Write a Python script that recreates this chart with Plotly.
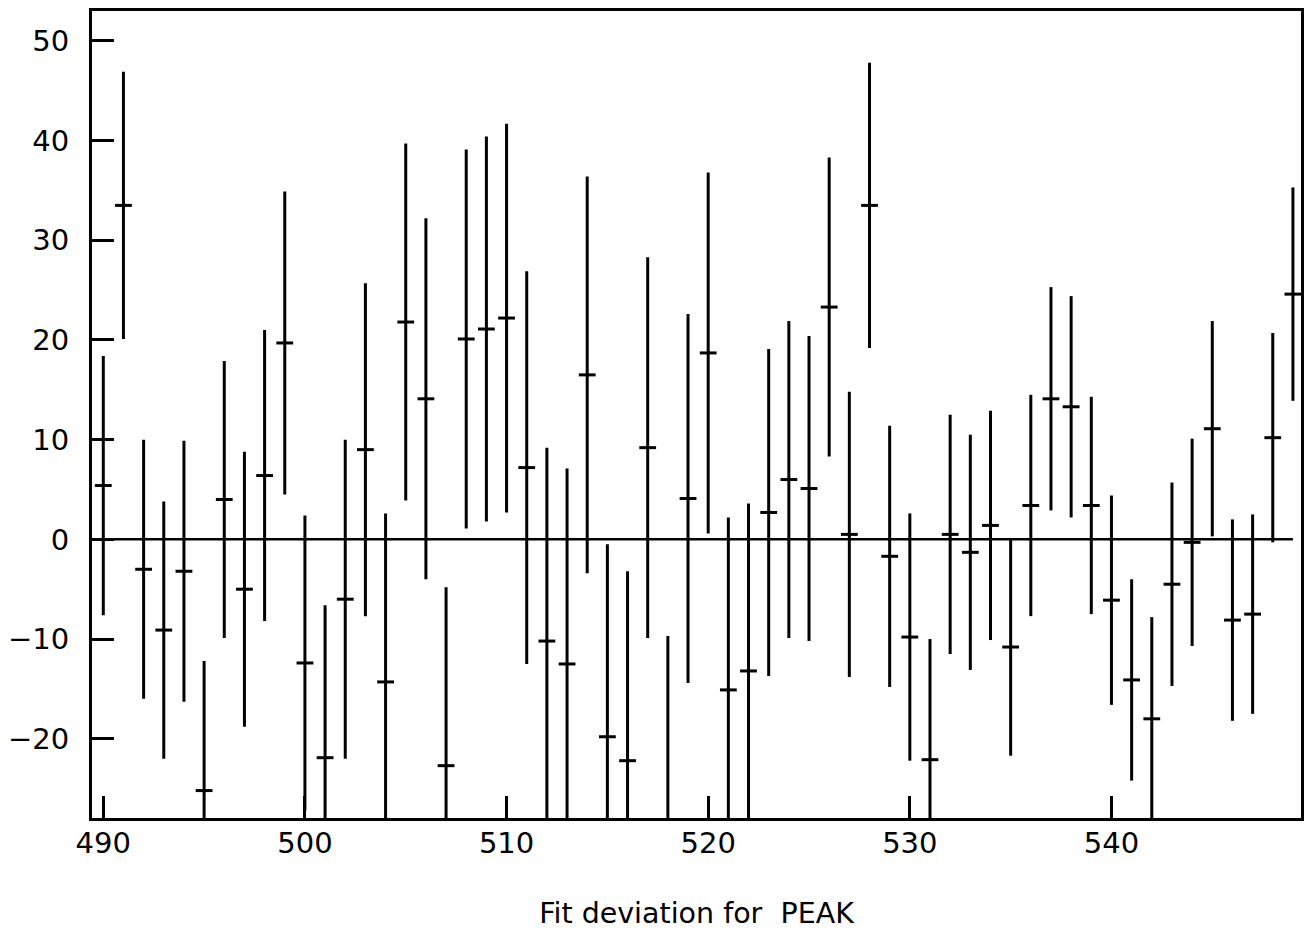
import plotly.graph_objects as go

channels = list(range(490, 550))
deviation = [5.4, 33.5, -3.0, -9.1, -3.2, -25.2, 4.0, -5.0, 6.4, 19.7,
             -12.4, -21.9, -6.0, 9.0, -14.3, 21.8, 14.1, -22.7, 20.1, 21.1,
             22.2, 7.2, -10.2, -12.5, 16.5, -19.8, -22.2, 9.2, -29.0, 4.1,
             18.7, -15.1, -13.2, 2.7, 6.0, 5.1, 23.3, 0.5, 33.5, -1.7,
             -9.8, -22.1, 0.5, -1.3, 1.4, -10.8, 3.4, 14.1, 13.3, 3.4,
             -6.1, -14.1, -18.0, -4.5, -0.3, 11.1, -8.1, -7.5, 10.2, 24.6]
errors = [13.0, 13.4, 13.0, 12.9, 13.1, 13.0, 13.9, 13.8, 14.6, 15.2,
          14.8, 15.3, 16.0, 16.7, 16.9, 17.9, 18.1, 17.9, 19.0, 19.3,
          19.5, 19.7, 19.4, 19.6, 19.9, 19.3, 19.0, 19.1, 19.3, 18.5,
          18.1, 17.3, 16.8, 16.4, 15.9, 15.3, 15.0, 14.3, 14.3, 13.1,
          12.4, 12.1, 12.0, 11.8, 11.5, 10.9, 11.1, 11.2, 11.1, 10.9,
          10.5, 10.1, 10.2, 10.2, 10.4, 10.8, 10.1, 10.0, 10.5, 10.7]

x_ticks = [490, 500, 510, 520, 530, 540]
y_ticks = [50, 40, 30, 20, 10, 0, -10, -20]
y_ticktext = ["50", "40", "30", "20", "10", "0", "\u221210", "\u221220"]
x_range = [489.44, 549.4]
y_range = [-27.95, 53.0]
x_title = "Fit deviation for\u00a0 PEAK"

fig = go.Figure()
fig.add_trace(go.Scatter(
    x=channels, y=deviation, mode="markers",
    marker=dict(symbol="line-ew", size=12, color="black",
                line=dict(width=3, color="black")),
    error_y=dict(type="data", array=errors, visible=True,
                 thickness=3, width=0, color="black"),
    showlegend=False,
))

fig.add_shape(type="line", xref="x", yref="y",
              x0=x_range[0], x1=channels[-1], y0=0, y1=0,
              line=dict(color="black", width=2.5), layer="above")

font_main = dict(family="DejaVu Sans", size=29, color="black")

fig.update_layout(
    width=1310, height=931,
    margin=dict(l=92, r=6, t=11, b=110),
    paper_bgcolor="white", plot_bgcolor="white",
    font=font_main,
    xaxis=dict(range=x_range, tickvals=x_ticks, ticktext=[str(v) for v in x_ticks],
               ticks="inside", ticklen=22, tickwidth=3, tickcolor="black",
               showline=True, mirror=True, linewidth=3, linecolor="black",
               showgrid=False, zeroline=False, tickfont=font_main,
               ticklabelstandoff=-3,
               title=dict(text=x_title, font=dict(family="DejaVu Sans", size=28.5, color="black"),
                          standoff=45)),
    yaxis=dict(range=y_range, tickvals=y_ticks, ticktext=y_ticktext,
               ticks="inside", ticklen=22, tickwidth=3, tickcolor="black",
               showline=True, mirror=True, linewidth=3, linecolor="black",
               showgrid=False, zeroline=False, tickfont=font_main,
               ticklabelstandoff=14),
)

fig.write_html("out.html")
